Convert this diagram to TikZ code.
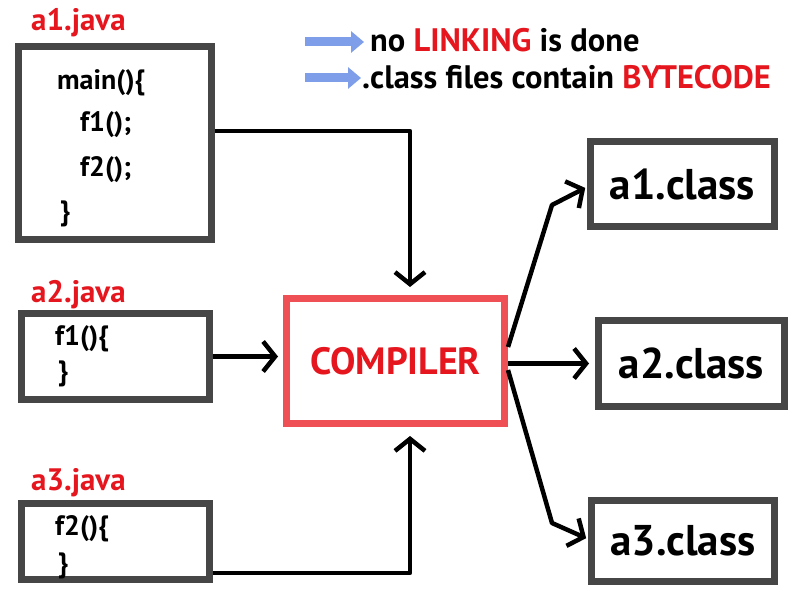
\documentclass[tikz,border=0pt]{standalone}
\usepackage{fontspec}
\setmainfont{PT Sans}
\usetikzlibrary{arrows.meta}
\definecolor{boxgray}{HTML}{464646}
\definecolor{hred}{HTML}{E5161E}
\definecolor{cred}{HTML}{EE5055}
\definecolor{lblue}{HTML}{7E9EEA}
\tikzset{
  filebox/.style={draw=boxgray, line width=7pt, fill=white, inner sep=0pt},
  compbox/.style={draw=cred, line width=7pt, fill=white, inner sep=0pt},
  conn/.style={draw=black, line width=4.5pt, line join=round,
    -{Straight Barb[length=12pt,width=30pt,line width=4.5pt]}},
  blarrow/.style={draw=lblue, line width=9pt,
    -{Triangle[length=13pt,width=21pt]}},
  flabel/.style={text=hred, font=\fontsize{31}{33}\selectfont\bfseries, anchor=base west, inner sep=0pt},
  code/.style={font=\fontsize{28}{30}\selectfont\bfseries, anchor=base west, inner sep=0pt},
  cls/.style={font=\fontsize{43}{45}\selectfont\bfseries},
  legend/.style={font=\fontsize{32.5}{34}\selectfont\bfseries, anchor=west, inner sep=0pt}
}
\begin{document}
\begin{tikzpicture}[x=1pt,y=-1pt]
\useasboundingbox[fill=white] (0,0) rectangle (800,596);

% legend
\node[legend] (t1) at (370,40) {no \textcolor{hred}{LINKING} is done};
\node[legend] (t2) at (362,77) {.class files contain \textcolor{hred}{BYTECODE}};
\coordinate (b1) at (305,42);
\coordinate (b2) at (305,78);
\draw[blarrow, shorten >=6pt] (b1) -- (b1 -| t1.west);
\draw[blarrow, shorten >=1pt] (b2) -- (b2 -| t2.west);

% java files
\node[filebox, minimum width=193pt, minimum height=193pt] (a1) at (115,143) {};
\node[flabel] (l1) at (31,31) {a1.java};
\node[code] (c1a) at (57,90) {main()\{};
\node[code] (c1b) at (80,132) {f1();};
\node[code] (c1c) at (80,177) {f2();};
\node[code] (c1d) at (60,221) {\}};

\node[filebox, minimum width=188pt, minimum height=86pt] (a2) at (115.5,356.5) {};
\node[flabel] (l2) at (31,302) {a2.java};
\node[code] (c2a) at (55,345) {f1()\{};
\node[code] (c2b) at (58,380) {\}};

\node[filebox, minimum width=188pt, minimum height=76pt] (a3) at (115.5,541.5) {};
\node[flabel] (l3) at (31,490) {a3.java};
\node[code] (c3a) at (55,535) {f2()\{};
\node[code] (c3b) at (58,572) {\}};

% compiler
\node[compbox, minimum width=218pt, minimum height=125pt,
      text=hred, font=\fontsize{38}{40}\selectfont\bfseries] (comp) at (395.5,361) {COMPILER};

% class files
\node[filebox, cls, minimum width=184pt, minimum height=85pt] (o1) at (682.5,184) {a1.class};
\node[filebox, cls, minimum width=186pt, minimum height=86pt] (o2) at (691.5,363.5) {a2.class};
\node[filebox, cls, minimum width=183pt, minimum height=81pt] (o3) at (683,541) {a3.class};

% inputs
\coordinate (k1) at (410,131);
\coordinate (e1) at (410,287);
\draw[conn] ([yshift=12pt]a1.east) -- (k1) -- (e1);
\draw[conn, shorten >=5pt] (a2.east) -- (a2.east -| comp.west);
\coordinate (k3) at (410,573);
\coordinate (e3) at (410,436);
\draw[conn] ([yshift=-31.5pt]a3.east) -- (k3) -- (e3);

% outputs
\coordinate (m1) at (552,205);
\coordinate (m3) at (552,523);
\draw[conn, shorten >=2pt] ([yshift=14pt]comp.east) -- (m1) -- (o1.west |- 0,187);
\draw[conn, shorten >=6pt] ([yshift=-2.5pt]comp.east) -- (o2.west);
\draw[conn, shorten >=2pt] ([yshift=-9pt]comp.east) -- (m3) -- (o3.west |- 0,539);
\end{tikzpicture}
\end{document}
